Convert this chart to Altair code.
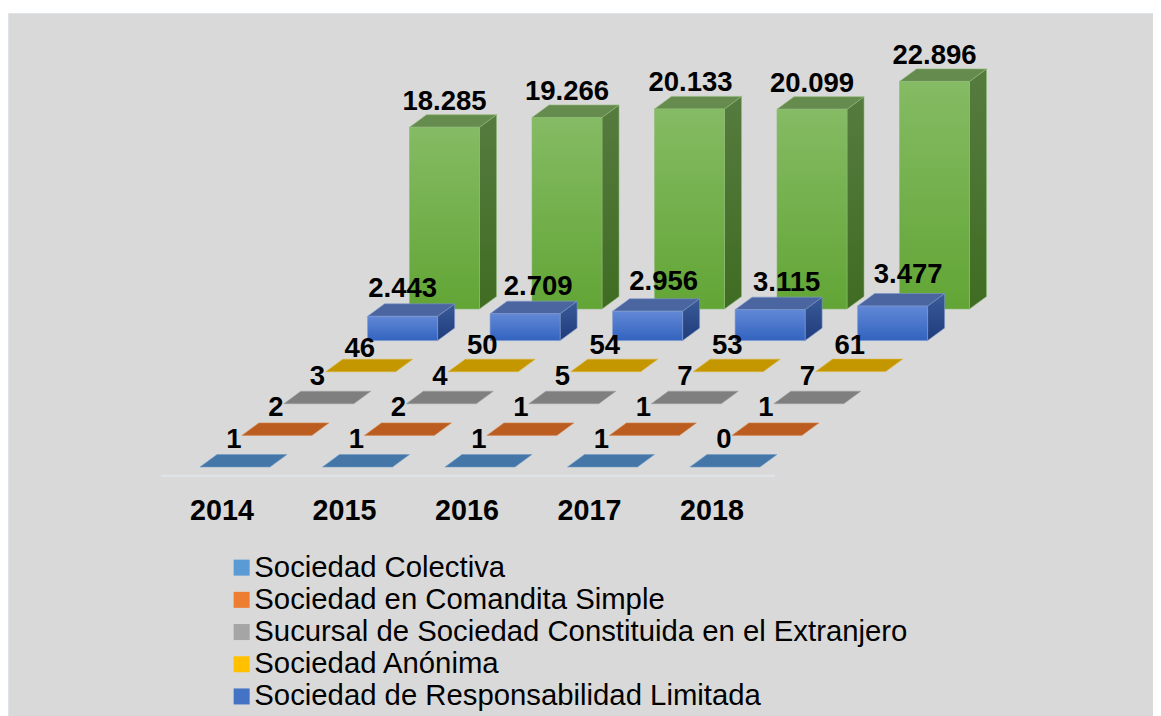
import altair as alt
import pandas as pd

YEARS = [2014, 2015, 2016, 2017, 2018]
SERIES = [
    "Sociedad Colectiva",
    "Sociedad en Comandita Simple",
    "Sucursal de Sociedad Constituida en el Extranjero",
    "Sociedad Anónima",
    "Sociedad de Responsabilidad Limitada",
    "Otras",
]
VALUES = [
    [1, 1, 1, 1, 0],
    [2, 2, 1, 1, 1],
    [3, 4, 5, 7, 7],
    [46, 50, 54, 53, 61],
    [2443, 2709, 2956, 3115, 3477],
    [18285, 19266, 20133, 20099, 22896],
]
LEGEND_COLORS = ["#5b9bd5", "#ed7d31", "#a5a5a5", "#ffc000", "#4472c4"]

# style per series: top colour, side gradient, front gradient, edge
STYLES = [
    {"top": "#4476a8", "edge": "#6f9cc8"},
    {"top": "#bb5d20", "edge": "#d98a52"},
    {"top": "#7f7f7f", "edge": "#a0a0a0"},
    {"top": "#c49700", "edge": "#dcb53a"},
    {"top": "#4a659f", "side": ("#3a5a98", "#1f3c7c"), "front": ("#6288d6", "#3263bf"), "edge": "#7d99cf"},
    {"top": "#658c4e", "side": ("#567b3f", "#3f6c22"), "front": ("#85bb64", "#62a535"), "edge": "#8fbb76"},
]

# projection (one x unit = one year step, y units = chart values)
PX_Y = 0.00994
PX_X = 122.5
W = 70 / PX_X
DX = 17 / PX_X
DY = 12.5 / PX_Y
SDX = 41.9 / PX_X
SDY = 31.6 / PX_Y
# label placement offsets in pixels, per series then per year
LIFT_PX = [
    [6.3] * 5,
    [6.8] * 5,
    [6.0] * 5,
    [2.0, 5.5, 5.5, 5.5, 5.5],
    [7.0, 5.9, 8.4, 5.8, 10.9],
    [5.0] * 5,
]
SHIFT_PX = [
    [-1] * 5,
    [-1] * 5,
    [-1.5] * 5,
    [-1] * 5,
    [0, 13, 16, 16.5, 15.6],
    [0, 0, 1, 0, 0],
]

rows = []
for s, vals in enumerate(VALUES):
    for i, v in enumerate(vals):
        for edge in (0, 1):
            rows.append({"year": str(YEARS[i]), "i": i, "s": s, "edge": edge, "value": v,
                         "series": SERIES[s], "label": f"{v:,}".replace(",", "."),
                         "lift": LIFT_PX[s][i] / PX_Y, "shift": SHIFT_PX[s][i] / PX_X})
df = pd.DataFrame(rows)

xs = alt.Scale(domain=[-192 / PX_X, 953 / PX_X], nice=False, zero=False)
ys = alt.Scale(domain=[-249 / PX_Y, 454 / PX_Y], nice=False, zero=False)


def X(f):
    return alt.X(f, type="quantitative", scale=xs, axis=None)


def X2(f):
    return alt.X2(f)


def Y(f):
    return alt.Y(f, type="quantitative", scale=ys, axis=None)


def Y2(f):
    return alt.Y2(f)


base = alt.Chart(df).transform_calculate(
    xl=f"datum.i + datum.s * {SDX}",
    xle=f"datum.xl + datum.edge * {DX}",
    xre=f"datum.xl + {W} + datum.edge * {DX}",
    xr=f"datum.xl + {W}",
    yb=f"datum.s * {SDY}",
    ybe=f"datum.yb + datum.edge * {DY}",
    yte=f"datum.ybe + datum.value",
    yt=f"datum.yb + datum.value",
    xc=f"datum.xl + {W / 2} + datum.shift",
    yl=f"datum.yb + {DY} + datum.value + datum.lift",
    xy=f"datum.i + {22 / PX_X}",
    yy=f"{-53 / PX_Y}",
)


def grad(c):
    return alt.Gradient(gradient="linear", x1=0, x2=0, y1=0, y2=1,
                        stops=[alt.GradientStop(color=c[0], offset=0), alt.GradientStop(color=c[1], offset=1)])


layers = []
for s in range(5, -1, -1):
    st = STYLES[s]
    b = base.transform_filter(f"datum.s == {s}")
    if "side" in st:
        layers.append(b.mark_area(orient="vertical", fill=grad(st["side"]), stroke=st["edge"], strokeWidth=0.6).encode(
            x=X("xre"), y=Y("yte"), y2=Y2("ybe"), detail="i:O"))
    layers.append(b.mark_area(orient="horizontal", fill=st["top"], stroke=st["edge"], strokeWidth=0.6).encode(
        y=Y("yte"), x=X("xle"), x2=X2("xre"), detail="i:O"))
    if "front" in st:
        layers.append(b.transform_filter("datum.edge == 0").mark_rect(
            fill=grad(st["front"]), stroke=st["edge"], strokeWidth=0.6).encode(
            x=X("xl"), x2=X2("xr"), y=Y("yt"), y2=Y2("yb")))

rule = alt.Chart(pd.DataFrame({"a": [-39 / PX_X], "b": [575 / PX_X + 0], "c": [-8.7 / PX_Y]})).mark_rule(
    color="#e0e4e9", strokeWidth=2).encode(x=X("a"), x2=X2("b"), y=Y("c"))

labels = base.transform_filter("datum.edge == 0").mark_text(
    font="Liberation Sans", fontWeight="bold", fontSize=27.5, baseline="alphabetic", align="center", color="#000000"
).encode(x=X("xc"), y=Y("yl"), text="label:N")

year_labels = base.transform_filter("datum.edge == 0 && datum.s == 0").mark_text(
    font="Liberation Sans", fontWeight="bold", fontSize=28.7, baseline="alphabetic", align="center", color="#000000"
).encode(x=X("xy"), y=Y("yy"), text="year:N")

legend_layer = base.transform_filter("datum.s < 5").mark_square(size=0, opacity=1).encode(
    x=X("xl"), y=Y("yt"),
    color=alt.Color("series:N", scale=alt.Scale(domain=SERIES[:5], range=LEGEND_COLORS),
                    legend=alt.Legend(orient="none", legendX=219, legendY=540, title=None, padding=0,
                                      symbolType="square", symbolSize=256, symbolStrokeWidth=0,
                                      labelFont="Liberation Sans", labelFontSize=29.3, labelColor="#000000",
                                      labelOffset={"expr": "-2"}, labelLimit=900, rowPadding=2.2, values=SERIES[:5])),
)

chart = alt.layer(*layers, rule, labels, year_labels, legend_layer).properties(
    width=1145, height=703, background="white",
    padding={"left": 0, "top": 5, "right": 0, "bottom": 0},
    autosize=alt.AutoSizeParams(type="none"),
).configure_view(fill="#d9d9d9", stroke="#dde3e8", strokeWidth=1)

chart.save("out.html", embed_options={"renderer": "svg", "actions": False})
